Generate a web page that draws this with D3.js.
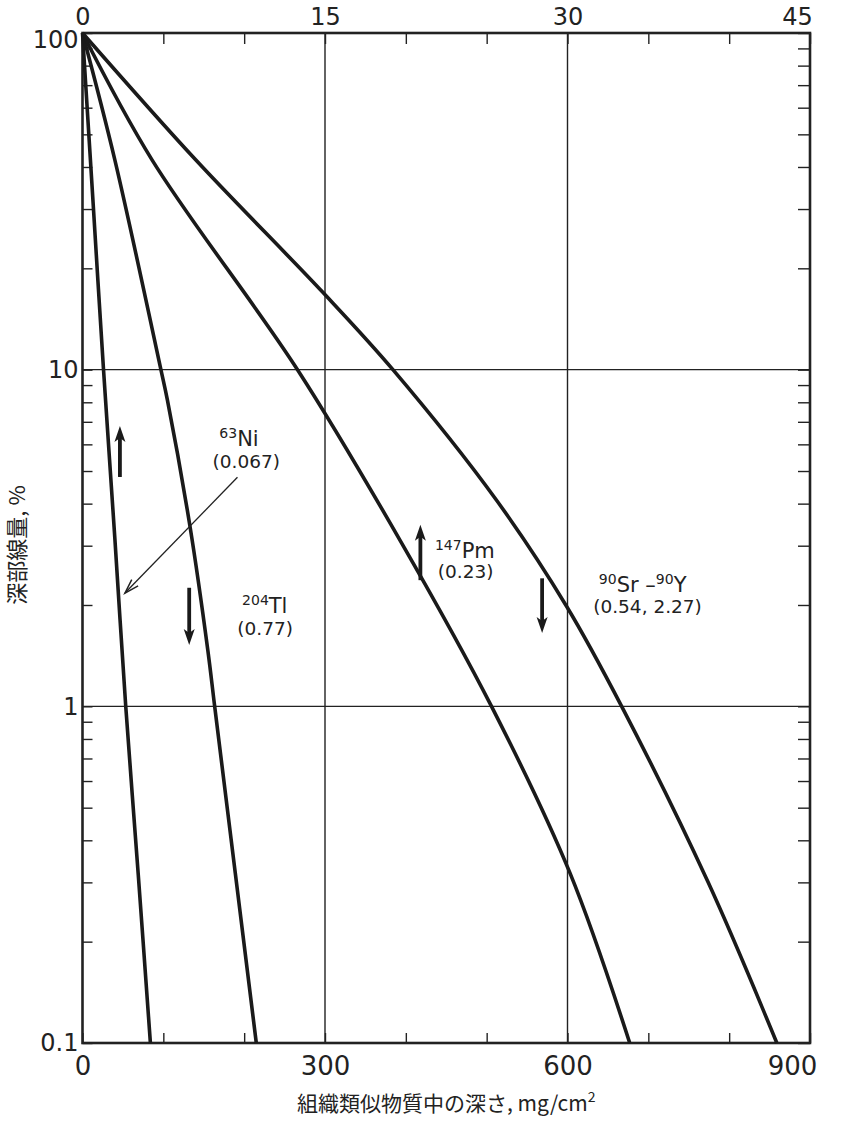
<!DOCTYPE html>
<html><head><meta charset="utf-8">
<script src="https://cdn.jsdelivr.net/npm/d3@7"></script>
<style>
body{margin:0;background:#fff;}
svg{display:block;}
text{font-family:"DejaVu Sans",sans-serif;fill:#222;}
</style></head>
<body><svg id="c" width="841" height="1122"></svg>
<script>
// ---- data ----
const bottomTicks = [0,100,200,300,400,500,600,700,800,900];
const bottomLabels = [0,300,600,900];
const topTicks = [0,5,10,15,20,25,30,35,40,45];
const topLabels = [0,15,30,45];
const yLabels = [0.1,1,10,100];
const gridX = [300,600];
const gridY = [1,10];

const niDepth = [0, 13, 26, 40, 53.5, 69, 84];
const niDose  = [100, 31.6, 10, 3.16, 1, 0.316, 0.1];
const tlDepth = [0, 40, 97, 105, 133, 155, 163.5, 189, 215];
const tlDose  = [100, 42, 10, 8.13, 3.42, 1.47, 1, 0.32, 0.1];
const pmDepth = [0, 86, 266, 395, 506, 603, 677];
const pmDose  = [100, 42, 10, 3.05, 1, 0.32, 0.1];
const srDepth = [0, 140, 297, 384, 512, 599, 667, 774, 859];
const srDose  = [100, 42, 17, 10, 4.1, 1.98, 1, 0.3, 0.1];

const arrowX    = [46.3, 132, 418, 568.6];
const arrowFrom = [4.8, 2.25, 2.37, 2.4];
const arrowTo   = [6.8, 1.52, 3.46, 1.65];

const pointerFrom = [191.7, 4.79];
const pointerTo   = [52.5, 2.17];

const labelIso   = ["63","204","147","90"];
const labelName  = ["Ni","Tl","Pm","Sr"];
const labelEnergy= ["(0.067)","(0.77)","(0.23)","(0.54, 2.27)"];
const labelX     = [193.6, 225.5, 473, 693];
const labelDose  = [5.95, 1.89, 2.76, 2.19];
const energyX    = [202.6, 226, 474, 699];
const energyDose = [5.1, 1.63, 2.41, 1.89];

// ---- scales ----
const L=82.5, R=810, T=33, B=1043;
const x = d3.scaleLinear().domain([0,900]).range([L,R]);
const xTop = d3.scaleLinear().domain([0,45]).range([L,R]);
const y = d3.scaleLog().domain([0.1,100]).range([B,T]);
const svg = d3.select("#c");

const yTicks = [];
[0.1,1,10].forEach(d=>{for(let k=1;k<10;k++) yTicks.push(+(d*k).toPrecision(3));});
yTicks.push(100);

// grid
svg.append("g").selectAll("line").data(gridX).join("line")
  .attr("x1",d=>x(d)).attr("x2",d=>x(d)).attr("y1",T).attr("y2",B)
  .attr("stroke","#222").attr("stroke-width",1.4);
svg.append("g").selectAll("line").data(gridY).join("line")
  .attr("y1",d=>y(d)).attr("y2",d=>y(d)).attr("x1",L).attr("x2",R)
  .attr("stroke","#222").attr("stroke-width",1.4);

function styleAxis(size){
  return g=>{
    g.select(".domain").remove();
    g.selectAll(".tick line").attr("stroke","#222").attr("stroke-width",1.4);
    g.selectAll(".tick text").style("font-size",size+"px").attr("fill","#222");
  };
}
const gB = svg.append("g").attr("transform",`translate(0,${B})`)
  .call(d3.axisBottom(x).tickValues(bottomTicks).tickSize(-10).tickPadding(14)
    .tickFormat(d=>bottomLabels.includes(d)?d:""))
  .call(styleAxis(26));
gB.selectAll(".tick text").filter(d=>d===900).attr("dx","-18");
const gT = svg.append("g").attr("transform",`translate(0,${T})`)
  .call(d3.axisTop(xTop).tickValues(topTicks).tickSize(-11).tickPadding(8)
    .tickFormat(d=>topLabels.includes(d)?d:""))
  .call(styleAxis(24));
gT.selectAll(".tick text").filter(d=>d===45).attr("dx","-13");
const gL = svg.append("g").attr("transform",`translate(${L},0)`)
  .call(d3.axisLeft(y).tickValues(yTicks).tickSize(-10).tickPadding(4)
    .tickFormat(d=>yLabels.includes(d)?String(d):""))
  .call(styleAxis(24));
gL.selectAll(".tick text").filter(d=>d===100).attr("dy","0.62em");
svg.append("g").attr("transform",`translate(${R},0)`)
  .call(d3.axisRight(y).tickValues(yTicks).tickSize(-12).tickFormat(""))
  .call(styleAxis(24));

// frame
svg.append("rect").attr("x",L).attr("y",T).attr("width",R-L).attr("height",B-T)
  .attr("fill","none").attr("stroke","#222").attr("stroke-width",2.6);

// curves
const series = [[niDepth,niDose],[tlDepth,tlDose],[pmDepth,pmDose],[srDepth,srDose]];
const line = d3.line().x(d=>x(d[0])).y(d=>y(d[1])).curve(d3.curveCatmullRom.alpha(0.5));
svg.append("g").selectAll("path").data(series).join("path")
  .attr("d",s=>line(s[0].map((v,i)=>[v,s[1][i]])))
  .attr("fill","none").attr("stroke","#1a1a1a").attr("stroke-width",3.6)
  .attr("stroke-linejoin","round");

// bold arrows
const ag = svg.append("g");
arrowX.forEach((ax,i)=>{
  const px=x(ax), y0=y(arrowFrom[i]), y1=y(arrowTo[i]);
  const dir = y1<y0 ? -1 : 1;
  const headLen=16, headW=5.5;
  ag.append("line").attr("x1",px).attr("x2",px).attr("y1",y0).attr("y2",y1-dir*headLen*0.6)
    .attr("stroke","#1a1a1a").attr("stroke-width",3.8);
  ag.append("path").attr("d",`M${px},${y1} L${px-headW},${y1-dir*headLen} L${px},${y1-dir*headLen*0.75} L${px+headW},${y1-dir*headLen} Z`)
    .attr("fill","#1a1a1a");
});

// thin pointer
{
  const x0=x(pointerFrom[0]), y0=y(pointerFrom[1]), x1=x(pointerTo[0]), y1=y(pointerTo[1]);
  svg.append("line").attr("x1",x0).attr("y1",y0).attr("x2",x1).attr("y2",y1)
    .attr("stroke","#222").attr("stroke-width",1.3);
  const ang=Math.atan2(y1-y0,x1-x0), len=15, spread=0.3;
  const p = a=>[x1-len*Math.cos(ang+a), y1-len*Math.sin(ang+a)];
  const a1=p(spread), a2=p(-spread);
  svg.append("path").attr("d",`M${a1[0]},${a1[1]} L${x1},${y1} L${a2[0]},${a2[1]}`)
    .attr("fill","none").attr("stroke","#222").attr("stroke-width",1.5);
}

// labels
labelName.forEach((nm,i)=>{
  const t = svg.append("text").attr("x",x(labelX[i])).attr("y",y(labelDose[i]))
    .attr("text-anchor","middle").style("font-size","21px");
  t.append("tspan").text(labelIso[i]).style("font-size","14px").attr("dy","-8");
  if(nm==="Sr"){
    t.append("tspan").text("Sr \u2013").attr("dy","8");
    t.append("tspan").text("90").style("font-size","14px").attr("dy","-8");
    t.append("tspan").text("Y").attr("dy","8");
  } else {
    t.append("tspan").text(nm).attr("dy","8");
  }
  svg.append("text").attr("x",x(energyX[i])).attr("y",y(energyDose[i]))
    .attr("text-anchor","middle").style("font-size","18.5px").text(labelEnergy[i]);
});

// axis titles
const xt = svg.append("text").attr("x",(L+R)/2).attr("y",1111).attr("text-anchor","middle")
  .style("font-family","'Noto Sans CJK JP',sans-serif").style("font-size","21px");
xt.append("tspan").text("組織類似物質中の深さ, mg/cm");
xt.append("tspan").text("2").style("font-size","14px").attr("dy","-9");
svg.append("text").attr("transform","translate(25,545) rotate(-90)").attr("text-anchor","middle")
  .style("font-family","'Noto Sans CJK JP',sans-serif").style("font-size","22px").text("深部線量, %");
</script></body></html>
